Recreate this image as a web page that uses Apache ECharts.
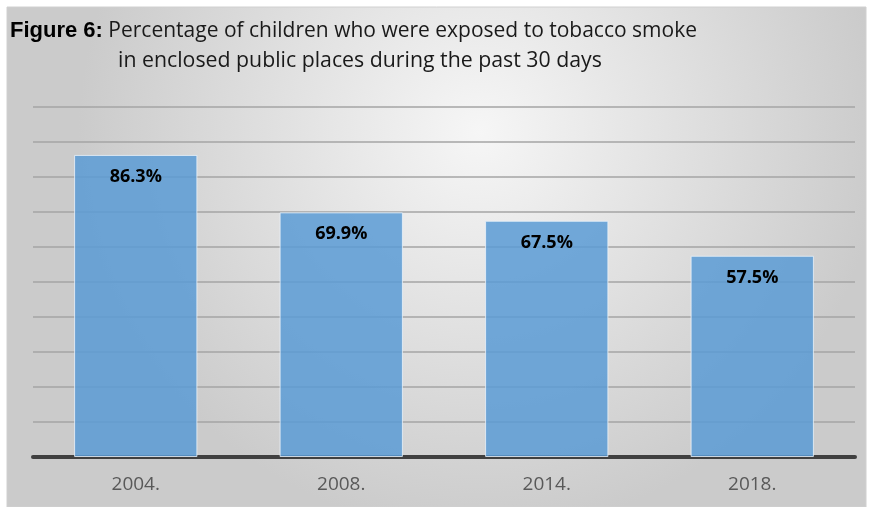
<!DOCTYPE html>
<html><head><meta charset="utf-8">
<script src="https://cdn.jsdelivr.net/npm/echarts@6/dist/echarts.min.js"></script>
<style>html,body{margin:0;padding:0;background:#fff}#c{width:872px;height:507px}</style>
</head><body><div id="c"></div>
<script>
var categories = ['2004.', '2008.', '2014.', '2018.'];
var values = [86.3, 69.9, 67.5, 57.5];
var titleBold = 'Figure 6:';
var titleLine1 = ' Percentage of children who were exposed to tobacco smoke';
var titleLine2 = 'in enclosed public places during the past 30 days';

var chart = echarts.init(document.getElementById('c'));
chart.setOption({
  animation: false,
  graphic: [
    { type: 'rect', z: -10, shape: { x: 7, y: 7, width: 859, height: 500 },
      style: { fill: { type: 'radial', x: 0.55, y: 0.25, r: 0.8,
        colorStops: [{ offset: 0, color: '#f6f6f6' }, { offset: 1, color: '#cbcbcb' }] },
        stroke: '#d0d0d0', lineWidth: 1 } },
    { type: 'text', left: 10, top: 20, z: 10,
      style: { rich: {
        b: { fontFamily: 'Liberation Sans Narrow, Arial Narrow, Liberation Sans, sans-serif', fontWeight: 'bold', fontSize: 22, fill: '#000' },
        n: { fontFamily: 'Open Sans, sans-serif', fontSize: 21, fill: '#1a1a1a' } },
        text: '{b|' + titleBold + '}{n|' + titleLine1 + '}' } },
    { type: 'text', left: 118, top: 50, z: 10,
      style: { text: titleLine2, fontFamily: 'Open Sans, sans-serif', fontSize: 21.3, fill: '#1a1a1a' } }
  ],
  grid: { left: 33, right: 17, top: 107, bottom: 50 },
  xAxis: {
    type: 'category', data: categories,
    axisLine: { show: true, lineStyle: { color: '#404040', width: 4 } },
    axisTick: { show: false },
    axisLabel: { color: '#595959', fontSize: 19, fontFamily: 'Open Sans, sans-serif', margin: 18 }
  },
  yAxis: {
    type: 'value', min: 0, max: 100, interval: 10,
    axisLabel: { show: false }, axisLine: { show: false }, axisTick: { show: false },
    splitLine: { lineStyle: { color: '#a4a4a4', width: 1.5 } }
  },
  series: [{
    type: 'bar', data: values, barCategoryGap: '40%',
    itemStyle: { color: 'rgba(91,155,213,0.85)', borderColor: 'rgba(235,242,250,0.8)', borderWidth: 1 },
    label: { show: true, position: 'insideTop', distance: 13,
      formatter: function (p) { return p.value.toFixed(1) + '%'; },
      color: '#000', fontWeight: 'bold', fontSize: 18, fontFamily: 'Open Sans, sans-serif' }
  }]
});
</script></body></html>
